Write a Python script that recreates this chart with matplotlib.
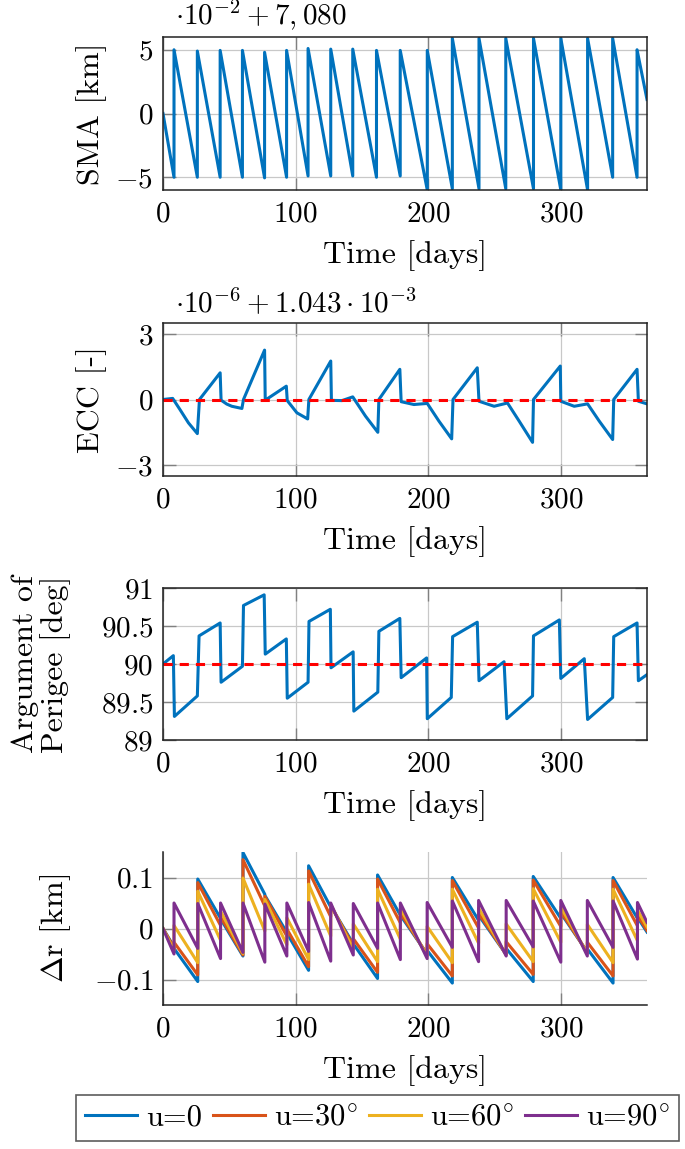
import matplotlib
matplotlib.use("Agg")
import matplotlib.pyplot as plt
from matplotlib.ticker import FuncFormatter, FixedLocator

plt.rcParams['font.family'] = 'serif'
plt.rcParams['font.serif'] = ['cmr10']
plt.rcParams['mathtext.fontset'] = 'cm'
plt.rcParams['axes.formatter.use_mathtext'] = True
plt.rcParams['axes.unicode_minus'] = True

# ---------------- data ----------------
sma_t = [0, 8.3, 8.3, 25.9, 25.9, 43.1, 43.1, 59.9, 59.9, 76.6, 76.6, 93.2, 93.2,
         109.4, 109.4, 126.5, 126.5, 143.1, 143.1, 161.0, 161.0, 178.9, 178.9,
         199.3, 199.3, 218.2, 218.2, 238.3, 238.3, 258.5, 258.5, 279.4, 279.4,
         300.0, 300.0, 320.2, 320.2, 339.1, 339.1, 357.5, 357.5, 365]
sma_v = [0, -5.0, 5.0, -5.0, 4.9, -5.0, 4.95, -5.0, 4.95, -5.05, 4.8, -5.0, 4.95,
         -4.9, 5.1, -4.9, 5.05, -4.9, 5.05, -5.0, 4.95, -4.9, 4.95,
         -6.0, 4.95, -5.9, 5.9, -5.9, 5.9, -5.9, 5.9, -5.9, 5.9,
         -6.0, 5.9, -6.0, 5.9, -5.0, 5.9, -5.0, 5.0, 1.1]

ecc_t = [0, 7.3, 12.8, 19.2, 25.9, 27.5, 43.1, 43.8, 48.1, 51.9, 59.5, 60.7, 76.6,
         77.1, 93.0, 93.7, 101.0, 109.1, 110.0, 126.5, 127.0, 135.0, 143.1, 152.7,
         162.0, 162.8, 178.6, 179.6, 189.2, 199.3, 208.1, 217.7, 218.7, 237.0,
         238.3, 249.7, 259.8, 268.6, 278.7, 279.4, 299.6, 300.0, 310.1, 320.2,
         329.0, 339.1, 339.9, 357.5, 358.5, 365.0]
ecc_v = [0.0, 0.05, -0.46, -1.07, -1.56, 0.0, 1.22, -0.03, -0.21, -0.31, -0.41, 0.0,
         2.26, -0.03, 0.61, -0.05, -0.61, -0.89, 0.0, 1.76, -0.04, -0.05, 0.12,
         -0.76, -1.5, 0.0, 1.38, -0.1, -0.23, -0.18, -0.99, -1.8, 0.0, 1.45,
         -0.08, -0.31, -0.16, -0.99, -1.96, 0.0, 1.53, -0.08, -0.31, -0.2,
         -0.99, -1.83, 0.0, 1.38, -0.08, -0.2]
ecc_ref = 0.0

aop_t = [0, 7.8, 8.6, 25.9, 27.2, 43.1, 43.8, 59.9, 60.7, 76.3, 77.1, 93.0, 93.7,
         109.4, 110.1, 126.2, 126.7, 143.4, 143.9, 162.0, 162.8, 178.6, 179.6,
         198.8, 199.3, 217.4, 218.4, 237.0, 238.3, 257.2, 259.3, 278.7, 279.4,
         298.9, 300.0, 317.7, 320.2, 339.1, 339.9, 357.5, 358.5, 365.0]
aop_v = [90.0, 90.11, 89.31, 89.58, 90.37, 90.54, 89.76, 89.97, 90.77, 90.91, 90.13,
         90.33, 89.55, 89.76, 90.56, 90.72, 89.95, 90.16, 89.38, 89.63, 90.43,
         90.60, 89.82, 90.08, 89.28, 89.56, 90.36, 90.55, 89.78, 90.03, 89.28,
         89.58, 90.37, 90.58, 89.81, 90.07, 89.27, 89.56, 90.36, 90.54, 89.78, 89.86]
aop_ref = 90.0

dr_t = [0, 8.3, 8.3, 26.2, 26.2, 43.4, 43.4, 60.3, 60.3, 76.8, 76.8, 93.4, 93.4,
        109.8, 109.8, 126.5, 126.5, 143.5, 143.5, 161.8, 161.8, 179.0, 179.0,
        199.2, 199.2, 218.2, 218.2, 238.0, 238.0, 258.8, 258.8, 279.2, 279.2,
        300.0, 300.0, 320.0, 320.0, 339.4, 339.4, 357.8, 357.8, 365]
dr_u0 = [0, -0.036, -0.039, -0.104, 0.097, 0.020, 0.019, -0.054, 0.149, 0.067, 0.065,
         -0.008, -0.009, -0.082, 0.123, 0.042, 0.044, -0.030, -0.030, -0.098, 0.105,
         0.026, 0.026, -0.050, -0.043, -0.107, 0.100, 0.016, 0.026, -0.051, -0.039,
         -0.104, 0.102, 0.020, 0.030, -0.046, -0.040, -0.107, 0.100, 0.020, 0.022, -0.007]
dr_u30 = [0, -0.038, -0.027, -0.091, 0.090, 0.006, 0.023, -0.052, 0.135, 0.044, 0.063,
          -0.015, -0.001, -0.075, 0.113, 0.023, 0.045, -0.034, -0.020, -0.086, 0.097,
          0.011, 0.030, -0.051, -0.030, -0.093, 0.094, 0.001, 0.030, -0.051, -0.026,
          -0.090, 0.095, 0.004, 0.033, -0.047, -0.027, -0.093, 0.094, 0.005, 0.026, -0.004]
dr_u60 = [0, -0.043, 0.006, -0.067, 0.073, -0.023, 0.034, -0.049, 0.099, -0.005, 0.057,
          -0.032, 0.021, -0.061, 0.087, -0.015, 0.047, -0.041, 0.009, -0.065, 0.077,
          -0.021, 0.039, -0.054, 0.004, -0.067, 0.077, -0.029, 0.040, -0.052, 0.009,
          -0.065, 0.078, -0.027, 0.042, -0.049, 0.008, -0.067, 0.077, -0.024, 0.036, 0.003]
dr_u90 = [0, -0.050, 0.050, -0.039, 0.049, -0.059, 0.050, -0.047, 0.050, -0.066, 0.048,
          -0.054, 0.050, -0.045, 0.051, -0.064, 0.050, -0.052, 0.049, -0.039, 0.050,
          -0.061, 0.050, -0.059, 0.051, -0.037, 0.054, -0.065, 0.055, -0.054, 0.055,
          -0.036, 0.054, -0.066, 0.055, -0.054, 0.055, -0.037, 0.054, -0.060, 0.051, 0.012]
dr_labels = ["u=0", "u=30$^{\\circ}$", "u=60$^{\\circ}$", "u=90$^{\\circ}$"]

x_ticks = [0, 100, 200, 300]

# ---------------- style ----------------
C_BLUE = '#0072BD'
C_ORANGE = '#D95319'
C_YELLOW = '#EDB120'
C_PURPLE = '#7E2F8E'
C_RED = '#FF0000'
LW = 2.2
TICK_FS = 21
LABEL_FS = 23

W, H = 685, 1149
fig = plt.figure(figsize=(W / 100, H / 100), dpi=100)

def add_ax(top, bottom):
    return fig.add_axes([163 / W, 1 - bottom / H, (647 - 163) / W, (bottom - top) / H])

fmt = FuncFormatter(lambda v, p: f"${v:g}$")

def style(ax, yticks, ylim, box=True):
    ax.set_xlim(0, 365)
    ax.set_ylim(*ylim)
    ax.xaxis.set_major_locator(FixedLocator(x_ticks))
    ax.yaxis.set_major_locator(FixedLocator(yticks))
    ax.xaxis.set_major_formatter(fmt)
    ax.yaxis.set_major_formatter(fmt)
    ax.grid(True, color='#c8c8c8', linewidth=0.9)
    ax.set_axisbelow(True)
    ax.tick_params(direction='in', length=9, width=1.0, color='#808080',
                   labelsize=TICK_FS, top=box, right=box)
    ax.tick_params(axis='x', pad=8)
    ax.tick_params(axis='y', pad=7)
    for s in ax.spines.values():
        s.set_linewidth(1.1)
        s.set_color('#222222')
    if not box:
        ax.spines['top'].set_visible(False)
        ax.spines['right'].set_visible(False)
    ax.set_xlabel("Time [days]", fontsize=LABEL_FS)
    ax.xaxis.set_label_coords(0.5, -0.33)

# Panel 1: SMA
ax1 = add_ax(37, 190)
ax1.plot(sma_t, sma_v, color=C_BLUE, lw=LW)
style(ax1, [-5, 0, 5], (-6, 6))
ax1.set_ylabel("SMA [km]", fontsize=LABEL_FS)
ax1.yaxis.set_label_coords(-0.115, 0.5)
ax1.text(0.025, 1.03, r"$\cdot 10^{-2} + 7,080$", transform=ax1.transAxes,
         fontsize=TICK_FS, ha='left', va='bottom')

# Panel 2: ECC
ax2 = add_ax(323, 476)
ax2.plot(ecc_t, ecc_v, color=C_BLUE, lw=LW)
ax2.axhline(ecc_ref, color=C_RED, lw=LW, dashes=(3, 2.3))
style(ax2, [-3, 0, 3], (-3.5, 3.5))
ax2.set_ylabel("ECC [-]", fontsize=LABEL_FS)
ax2.yaxis.set_label_coords(-0.115, 0.5)
ax2.text(0.025, 1.03, r"$\cdot 10^{-6} + 1.043 \cdot 10^{-3}$", transform=ax2.transAxes,
         fontsize=TICK_FS, ha='left', va='bottom')

# Panel 3: Argument of perigee
ax3 = add_ax(588, 740)
ax3.plot(aop_t, aop_v, color=C_BLUE, lw=LW)
ax3.axhline(aop_ref, color=C_RED, lw=LW, dashes=(3, 2.3))
style(ax3, [89, 89.5, 90, 90.5, 91], (89, 91))
ax3.set_ylabel("Argument of\nPerigee [deg]", fontsize=LABEL_FS, linespacing=1.05)
ax3.yaxis.set_label_coords(-0.19, 0.5)

# Panel 4: Delta r
ax4 = add_ax(852, 1005)
h = []
for vals, c in zip([dr_u0, dr_u30, dr_u60, dr_u90], [C_BLUE, C_ORANGE, C_YELLOW, C_PURPLE]):
    h += ax4.plot(dr_t, vals, color=c, lw=LW)
style(ax4, [-0.1, 0, 0.1], (-0.15, 0.15), box=False)
ax4.set_ylabel(r"$\Delta$r [km]", fontsize=LABEL_FS)
ax4.yaxis.set_label_coords(-0.185, 0.5)

leg = fig.legend(h, dr_labels, loc='center', bbox_to_anchor=(377.5 / W, 1 - 1118 / H),
                 ncol=4, fontsize=22, frameon=True, fancybox=False,
                 edgecolor='#333333', handlelength=1.7, handletextpad=0.3,
                 columnspacing=0.35, borderpad=0.3, borderaxespad=0)
leg.get_frame().set_linewidth(1.2)

fig.savefig("out.png", dpi=100)
